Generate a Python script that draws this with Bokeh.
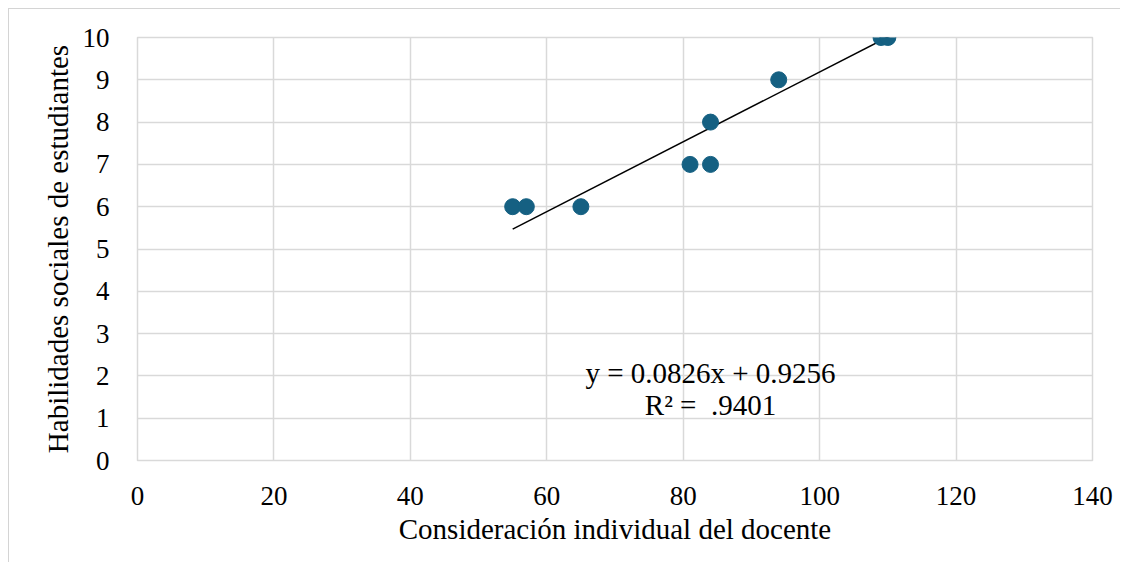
from bokeh.plotting import figure
from bokeh.models import Range1d, FixedTicker, ColumnDataSource, Label
from bokeh.embed import file_html
from bokeh.resources import INLINE

# Data
consideracion = [55, 57, 65, 81, 84, 84, 94, 109, 110]
habilidades = [6, 6, 6, 7, 7, 8, 9, 10, 10]
slope = 0.0826
intercept = 0.9256
r2_text = "R\u00b2 = \u00a0.9401"
eq_text = "y = 0.0826x + 0.9256"
x_ticks = [0, 20, 40, 60, 80, 100, 120, 140]
y_ticks = [0, 1, 2, 3, 4, 5, 6, 7, 8, 9, 10]
x_label = "Consideración individual del docente"
y_label = "Habilidades sociales de estudiantes"

FONT = "Liberation Serif"
GRID = "#d9d9d9"

p = figure(width=1120, height=562, output_backend="svg", toolbar_location=None,
           x_range=Range1d(0, 140), y_range=Range1d(0, 10),
           min_border_left=137, min_border_right=28, min_border_top=37, min_border_bottom=102)
# outer chart border (left/top edges visible), drawn behind a transparent border area
p.styles = {
    "background": "linear-gradient(#d4d4d4,#d4d4d4) 8px 8px / 1px 100% no-repeat, "
                  "linear-gradient(#d4d4d4,#d4d4d4) 8px 8px / 100% 1px no-repeat, white"
}
p.background_fill_color = "white"
p.border_fill_color = None
p.outline_line_color = GRID
p.outline_line_width = 1.5

p.xaxis.ticker = FixedTicker(ticks=x_ticks)
p.yaxis.ticker = FixedTicker(ticks=y_ticks)
for ax in (p.xaxis[0], p.yaxis[0]):
    ax.axis_line_color = None
    ax.major_tick_line_color = None
    ax.minor_tick_line_color = None
    ax.major_label_text_font = FONT
    ax.major_label_text_font_size = "27px"
    ax.major_label_text_color = "black"
    ax.axis_label_text_font = FONT
    ax.axis_label_text_font_size = "29px"
    ax.axis_label_text_font_style = "normal"
    ax.axis_label_text_color = "black"
p.xaxis.axis_label = x_label
p.yaxis.axis_label = y_label
p.xaxis.major_label_standoff = 20
p.yaxis.major_label_standoff = 22
p.xaxis.axis_label_standoff = 5
p.yaxis.axis_label_standoff = 6

p.xgrid.grid_line_color = GRID
p.ygrid.grid_line_color = GRID
p.xgrid.grid_line_width = 1.5
p.ygrid.grid_line_width = 1.5

# trendline
x0, x1 = min(consideracion), max(consideracion)
p.line([x0, x1], [slope * x0 + intercept, slope * x1 + intercept], line_color="black", line_width=1.5)

src = ColumnDataSource(dict(x=consideracion, y=habilidades))
p.scatter("x", "y", source=src, size=16, fill_color="#156082", line_color="#156082")

p.add_layout(Label(x=84, y=2.07, text=eq_text, text_font=FONT, text_font_size="29px",
                   text_align="center", text_baseline="alphabetic", text_color="black"))
p.add_layout(Label(x=84, y=1.32, text=r2_text, text_font=FONT, text_font_size="29px",
                   text_align="center", text_baseline="alphabetic", text_color="black"))

open("out.html", "w").write(file_html(p, INLINE))
